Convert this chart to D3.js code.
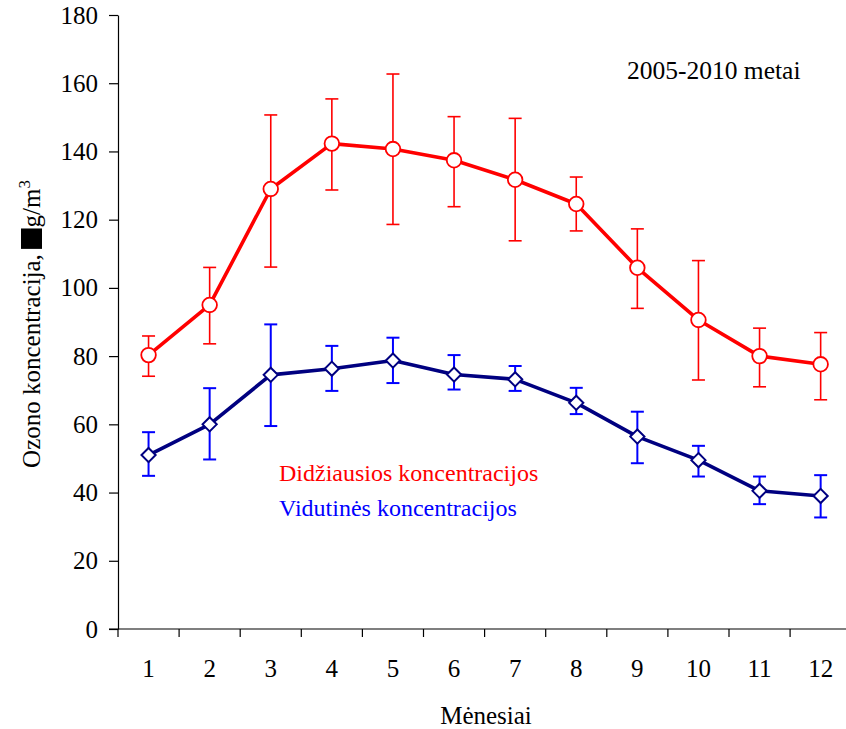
<!DOCTYPE html>
<html>
<head>
<meta charset="utf-8">
<script src="https://cdn.jsdelivr.net/npm/d3@7"></script>
<style>
  html, body { margin: 0; padding: 0; background: #fff; }
  svg { display: block; }
  text { font-family: "Liberation Serif", "Times New Roman", serif; }
</style>
</head>
<body>
<svg id="chart" width="846" height="729"></svg>
<script>
const months = [1, 2, 3, 4, 5, 6, 7, 8, 9, 10, 11, 12];
const yTicks = [0, 20, 40, 60, 80, 100, 120, 140, 160, 180];

// Didžiausios koncentracijos (max)
const maxValues = [80.3, 95.0, 129.0, 142.3, 140.7, 137.4, 131.7, 124.6, 105.9, 90.6, 80.0, 77.6];
const maxUpper  = [85.9, 106.0, 150.7, 155.4, 162.7, 150.2, 149.7, 132.5, 117.3, 108.0, 88.2, 86.9];
const maxLower  = [74.1, 83.6, 106.1, 128.7, 118.6, 123.8, 113.8, 116.7, 94.0, 73.0, 71.0, 67.2];

// Vidutinės koncentracijos (mean)
const meanValues = [51.0, 60.0, 74.5, 76.3, 78.7, 74.6, 73.2, 66.3, 56.4, 49.5, 40.5, 39.0];
const meanUpper  = [57.7, 70.6, 89.3, 83.0, 85.4, 80.3, 77.1, 70.7, 63.7, 53.7, 44.7, 45.1];
const meanLower  = [44.9, 49.7, 59.5, 69.8, 72.1, 70.2, 69.8, 63.0, 48.6, 44.7, 36.6, 32.7];

const svg = d3.select("#chart");
const FONT = 25;

const x = d3.scaleBand().domain(months).range([118, 851.2]);
const y = d3.scaleLinear().domain([0, 180]).range([629, 15]);
const cx = d => x(d) + x.bandwidth() / 2;

// Y axis
const yAxis = svg.append("g")
  .attr("transform", "translate(118,0)")
  .call(d3.axisLeft(y).tickValues(yTicks).tickSize(9).tickPadding(11).tickSizeOuter(0));
yAxis.select(".domain").attr("stroke", "#000").attr("stroke-width", 1.2);
yAxis.selectAll(".tick line").attr("stroke", "#000").attr("stroke-width", 1.2);
yAxis.selectAll(".tick text").attr("font-size", FONT).attr("fill", "#000")
  .attr("font-family", "Liberation Serif");

// X axis
const xAxis = svg.append("g")
  .attr("transform", "translate(0,629)")
  .call(d3.axisBottom(x).tickSize(0).tickPadding(0).tickSizeOuter(0));
xAxis.select(".domain").remove();
svg.append("line")
  .attr("x1", 109).attr("x2", 846).attr("y1", 629).attr("y2", 629)
  .attr("stroke", "#000").attr("stroke-width", 1.2);
// boundary ticks between categories
const bounds = months.map(m => x(m)).concat([x(12) + x.bandwidth()]);
svg.append("g").selectAll("line").data(bounds).join("line")
  .attr("x1", d => d).attr("x2", d => d).attr("y1", 629).attr("y2", 637)
  .attr("stroke", "#000").attr("stroke-width", 1.2);
xAxis.selectAll(".tick text").attr("font-size", FONT).attr("fill", "#000")
  .attr("font-family", "Liberation Serif")
  .attr("dy", null).attr("y", 48);

// Axis titles
svg.append("text")
  .attr("x", 486).attr("y", 724)
  .attr("text-anchor", "middle").attr("font-size", FONT)
  .text("Mėnesiai");

const yt = svg.append("g").attr("transform", "translate(40,324) rotate(-90)");
const ylab = yt.append("text").attr("text-anchor", "middle").attr("font-size", FONT);
ylab.append("tspan").text("Ozono koncentracija, ");
ylab.append("tspan").attr("class", "mu").attr("fill-opacity", 0).text("µ");
ylab.append("tspan").attr("dx", 6).text("g/m");
ylab.append("tspan").attr("dy", -10).attr("font-size", 17).text("3");
// black box in place of the mu glyph (as in the reference)
{
  const node = ylab.node();
  const idx = "Ozono koncentracija, ".length;
  const s = node.getStartPositionOfChar(idx);
  const e = node.getEndPositionOfChar(idx);
  yt.insert("rect", "text")
    .attr("x", s.x - 1).attr("y", s.y - 19)
    .attr("width", (e.x - s.x) + 6).attr("height", 21)
    .attr("fill", "#000");
}

// Annotation
svg.append("text")
  .attr("x", 627).attr("y", 79)
  .attr("font-size", 25.5)
  .text("2005-2010 metai");

// Legend texts
svg.append("text").attr("x", 279).attr("y", 481)
  .attr("font-size", 24).attr("fill", "#ff0000")
  .text("Didžiausios koncentracijos");
svg.append("text").attr("x", 279).attr("y", 516)
  .attr("font-size", 24).attr("fill", "#0000ff")
  .text("Vidutinės koncentracijos");

function drawSeries(values, upper, lower, lineColor, errColor, marker) {
  const g = svg.append("g");
  // error bars
  const eb = g.append("g").attr("stroke", errColor).attr("stroke-width", marker === "circle" ? 1.6 : 2);
  months.forEach((m, i) => {
    const X = cx(m);
    eb.append("line").attr("x1", X).attr("x2", X).attr("y1", y(upper[i])).attr("y2", y(lower[i]));
    eb.append("line").attr("x1", X - 6.5).attr("x2", X + 6.5).attr("y1", y(upper[i])).attr("y2", y(upper[i]));
    eb.append("line").attr("x1", X - 6.5).attr("x2", X + 6.5).attr("y1", y(lower[i])).attr("y2", y(lower[i]));
  });
  // line
  const line = d3.line().x((d, i) => cx(months[i])).y(d => y(d));
  g.append("path").datum(values)
    .attr("d", line)
    .attr("fill", "none").attr("stroke", lineColor).attr("stroke-width", 3.6)
    .attr("stroke-linejoin", "round");
  // markers
  if (marker === "circle") {
    g.append("g").selectAll("circle").data(values).join("circle")
      .attr("cx", (d, i) => cx(months[i])).attr("cy", d => y(d)).attr("r", 7.3)
      .attr("fill", "#fff").attr("stroke", lineColor).attr("stroke-width", 1.8);
  } else {
    const sym = d3.symbol().type(d3.symbolDiamond2).size(128);
    g.append("g").selectAll("path").data(values).join("path")
      .attr("transform", (d, i) => `translate(${cx(months[i])},${y(d)})`)
      .attr("d", sym)
      .attr("fill", "#fff").attr("stroke", lineColor).attr("stroke-width", 2);
  }
}

drawSeries(maxValues, maxUpper, maxLower, "#ff0000", "#ff0000", "circle");
drawSeries(meanValues, meanUpper, meanLower, "#000080", "#0000ff", "diamond");
</script>
</body>
</html>
